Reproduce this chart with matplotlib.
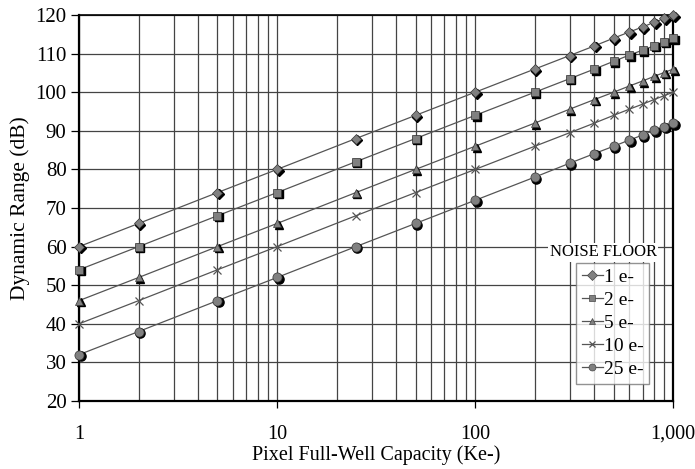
import numpy as np
import matplotlib
matplotlib.use("Agg")
import matplotlib.pyplot as plt
from matplotlib.lines import Line2D
from matplotlib.ticker import FixedLocator, LogLocator, NullFormatter
import matplotlib.transforms as mtransforms

plt.rcParams['font.family'] = ['Liberation Serif', 'DejaVu Serif']

# full-well capacity (Ke-)
capacity = [1, 2, 5, 10, 25, 50, 100, 200, 300, 400, 500, 600, 700, 800, 900, 1000]

# dynamic range (dB) for each noise floor
dr_1e = [60.0, 66.0, 74.0, 80.0, 88.0, 94.0, 100.0, 106.0, 109.5, 112.0, 114.0, 115.6, 116.9, 118.1, 119.1, 120.0]
dr_2e = [54.0, 60.0, 68.0, 74.0, 82.0, 88.0, 94.0, 100.0, 103.5, 106.0, 108.0, 109.6, 110.9, 112.0, 113.1, 114.0]
dr_5e = [46.0, 52.0, 60.0, 66.0, 74.0, 80.0, 86.0, 92.0, 95.6, 98.1, 100.0, 101.6, 102.9, 104.1, 105.1, 106.0]
dr_10e = [40.0, 46.0, 54.0, 60.0, 68.0, 74.0, 80.0, 86.0, 89.5, 92.0, 94.0, 95.6, 96.9, 98.1, 99.1, 100.0]
dr_25e = [32.0, 38.0, 46.0, 52.0, 60.0, 66.0, 72.0, 78.0, 81.6, 84.1, 86.0, 87.6, 88.9, 90.1, 91.1, 92.0]

series = [dr_1e, dr_2e, dr_5e, dr_10e, dr_25e]
labels = ['1 e-', '2 e-', '5 e-', '10 e-', '25 e-']
markers = ['D', 's', '^', 'x', 'o']
msizes = [5.4, 6.2, 6.4, 6.0, 6.6]

fig = plt.figure(figsize=(6.95, 4.69), dpi=100)
ax = fig.add_axes([0.1137, 0.145, 0.855, 0.823])

ax.set_xscale('log')
ax.set_xlim(1, 1000)
ax.set_ylim(20, 120)

# grid: every 10 dB and every decade subdivision
ax.yaxis.set_major_locator(FixedLocator(np.arange(20, 121, 10)))
ax.xaxis.set_major_locator(FixedLocator([1, 10, 100, 1000]))
ax.xaxis.set_minor_locator(LogLocator(base=10, subs=np.arange(2, 10)))
ax.xaxis.set_minor_formatter(NullFormatter())
ax.set_xticklabels(['1', '10', '100', '1,000'])
ax.grid(True, which='both', axis='x', color='#444444', lw=0.9)
ax.grid(True, which='major', axis='y', color='#444444', lw=0.9)
ax.set_axisbelow(True)

ax.tick_params(axis='x', which='major', direction='out', length=5, width=0.9,
               pad=12, labelsize=14.5)
ax.tick_params(axis='x', which='minor', length=0)
ax.tick_params(axis='y', direction='out', length=6, width=0.9, pad=3, labelsize=15)

for side in ['left', 'bottom', 'top', 'right']:
    ax.spines[side].set_color('black')
    ax.spines[side].set_linewidth(1.6)
ax.spines['top'].set_linewidth(1.2)

# drop shadow for markers
shadow = mtransforms.offset_copy(ax.transData, fig=fig, x=1.1, y=-1.1, units='points')

for vals, m, ms in zip(series, markers, msizes):
    ax.plot(capacity, vals, color='#555555', lw=0.9, zorder=3)
    if m == 'x':
        ax.plot(capacity, vals, ls='none', marker='x', ms=ms, mew=0.9,
                color='#555555', zorder=4, clip_on=False)
    else:
        ax.plot(capacity, vals, ls='none', marker=m, ms=ms, color='black',
                transform=shadow, zorder=4, clip_on=False)
        ax.plot(capacity, vals, ls='none', marker=m, ms=ms, mfc='#808080',
                mec='#333333', mew=0.5, zorder=5, clip_on=False)

ax.set_xlabel('Pixel Full-Well Capacity (Ke-)', fontsize=14.5, labelpad=1)
ax.set_ylabel('Dynamic Range (dB)', fontsize=15.5, labelpad=4)

# legend with its title sitting above the box
handles = []
for lab, m in zip(labels, markers):
    if m == 'x':
        h = Line2D([], [], color='#555555', lw=0.9, marker='x', ms=5, mew=0.9,
                   mec='#555555')
    else:
        h = Line2D([], [], color='#555555', lw=0.9, marker=m, ms=5,
                   mfc='#808080', mec='#444444', mew=0.5)
    handles.append(h)
leg = ax.legend(handles, labels, loc='lower right', bbox_to_anchor=(0.96, 0.044),
                fontsize=14, frameon=True, fancybox=False, handlelength=1.1,
                handletextpad=0.05, borderpad=0.3, labelspacing=0.28,
                borderaxespad=0)
leg.get_frame().set_edgecolor('#777777')
leg.get_frame().set_linewidth(1.0)
leg.set_zorder(10)

ax.text(0.882, 0.385, 'NOISE FLOOR', transform=ax.transAxes, ha='center',
        va='center', fontsize=12, zorder=10,
        bbox=dict(facecolor='white', edgecolor='none', pad=1))

fig.savefig('out.png', dpi=100, facecolor='white')
